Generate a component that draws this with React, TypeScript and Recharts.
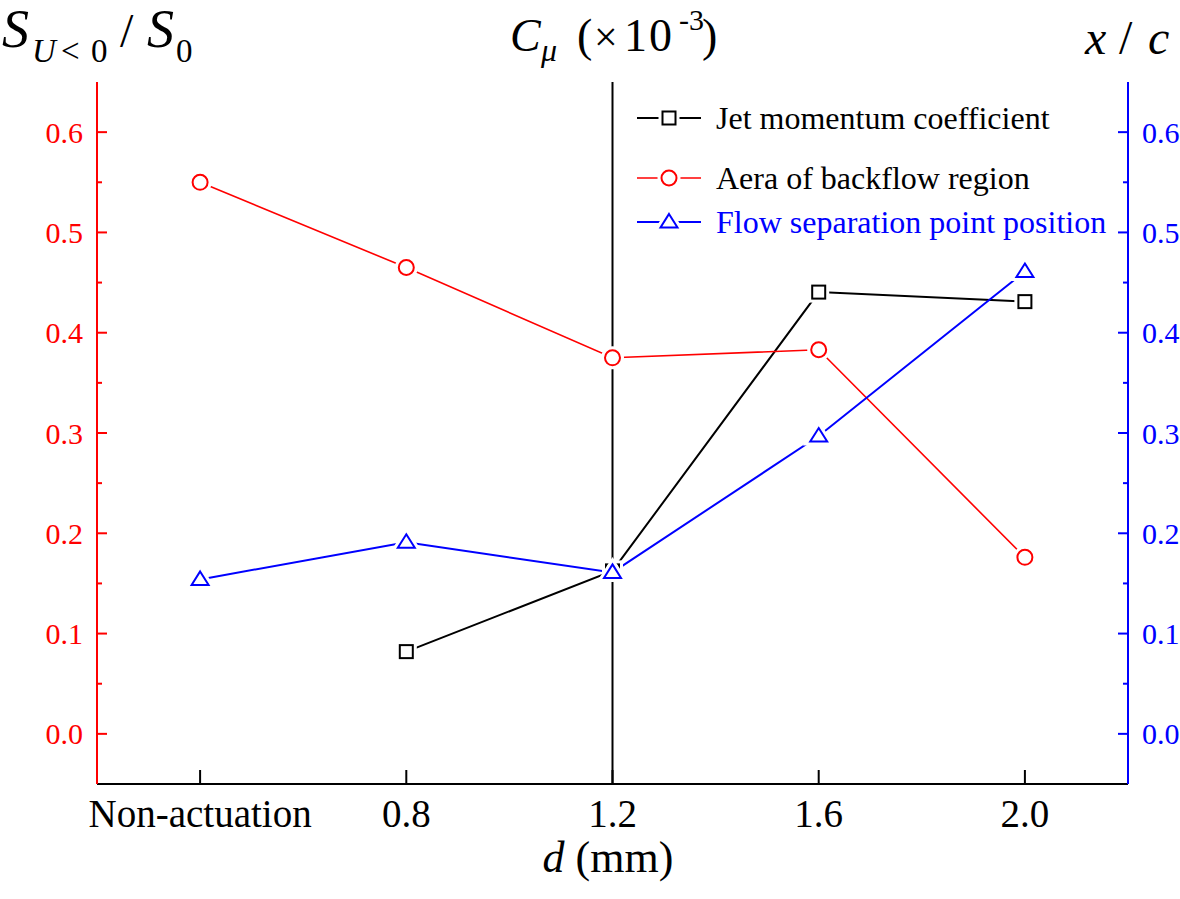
import React from 'react';
import { LineChart, Line, XAxis, YAxis, ReferenceLine, Legend } from 'recharts';

// nozzle diameter d (mm)
const categories = ['Non-actuation', '0.8', '1.2', '1.6', '2.0'];
// Cμ (x10^-3), no jet without actuation
const jetCmu: (number | null)[] = [null, 0.164, 0.325, 0.881, 0.862];
// S_{U<0} / S_0
const backflowArea = [0.55, 0.465, 0.375, 0.383, 0.176];
// x / c
const separationPoint = [0.154, 0.191, 0.161, 0.297, 0.461];

const sideTicks = [0, 0.05, 0.1, 0.15, 0.2, 0.25, 0.3, 0.35, 0.4, 0.45, 0.5, 0.55, 0.6];
const midTicks = [0, 0.2, 0.4, 0.6, 0.8, 1.0, 1.2];

const RED = '#ff0000';
const BLUE = '#0000ff';
const BLACK = '#000000';
const FONT = '"Liberation Serif", "Times New Roman", serif';

const W = 1180;
const H = 899;
const PLOT = { left: 97, right: 1128, top: 82, bottom: 784 };
const MID_X = (PLOT.left + PLOT.right) / 2;
const X_PAD = (PLOT.right - PLOT.left) / categories.length / 2;

type Shape = 'square' | 'circle' | 'triangle';

const series = [
  { key: 'cmu', name: 'Jet momentum coefficient', color: BLACK, text: BLACK, shape: 'square' as Shape, axis: 'C', width: 2 },
  { key: 'area', name: 'Aera of backflow region', color: RED, text: BLACK, shape: 'circle' as Shape, axis: 'S', width: 1.6 },
  { key: 'sep', name: 'Flow separation point position', color: BLUE, text: BLUE, shape: 'triangle' as Shape, axis: 'X', width: 2 },
];

const data = categories.map((d, i) => ({
  d,
  cmu: jetCmu[i],
  area: backflowArea[i],
  sep: separationPoint[i],
}));

const shapeEl = (shape: Shape, x: number, y: number, props: any) => {
  if (shape === 'square') return <rect x={x - 6.5} y={y - 6.5} width={13} height={13} {...props} />;
  if (shape === 'circle') return <circle cx={x} cy={y} r={7.5} {...props} />;
  return <polygon points={`${x},${y - 8} ${x + 8.5},${y + 5.5} ${x - 8.5},${y + 5.5}`} {...props} />;
};

const Marker = ({ shape, x, y, color }: { shape: Shape; x: number; y: number; color: string }) => (
  <g>
    {shapeEl(shape, x, y, { fill: '#fff', stroke: '#fff', strokeWidth: 8 })}
    {shapeEl(shape, x, y, { fill: '#fff', stroke: color, strokeWidth: 2 })}
  </g>
);

const SideTick = (props: any) => {
  const { y, payload, side, color } = props;
  const v = payload.value as number;
  const major = Math.round(v * 100) % 10 === 0;
  const x0 = side === 'left' ? PLOT.left : PLOT.right;
  const dir = side === 'left' ? 1 : -1;
  const len = major ? 10 : 5;
  return (
    <g>
      <line x1={x0} x2={x0 + dir * len} y1={y} y2={y} stroke={color} strokeWidth={2} />
      {major && (
        <text
          x={side === 'left' ? x0 - 14 : x0 + 14}
          y={y}
          dy="0.35em"
          textAnchor={side === 'left' ? 'end' : 'start'}
          fill={color}
          fontSize={30}
          fontFamily={FONT}
        >
          {v.toFixed(1)}
        </text>
      )}
    </g>
  );
};

const MidTick = (props: any) => {
  const { y, payload } = props;
  return (
    <g>
      <line x1={MID_X - 6} x2={MID_X + 6} y1={y} y2={y} stroke={BLACK} strokeWidth={2} />
      <text x={MID_X - 10} y={y} dy="0.35em" textAnchor="end" fill={BLACK} fontSize={30} fontFamily={FONT}>
        {(payload.value as number).toFixed(1)}
      </text>
    </g>
  );
};

const BottomTick = (props: any) => {
  const { x, payload } = props;
  return (
    <g>
      <line x1={x} x2={x} y1={PLOT.bottom} y2={PLOT.bottom - 14} stroke={BLACK} strokeWidth={2} />
      <text x={x} y={827} textAnchor="middle" fill={BLACK} fontSize={39} fontFamily={FONT}>
        {payload.value}
      </text>
    </g>
  );
};

const rowGaps = [0, 26, 10];

const LegendBox = () => (
  <div style={{ fontFamily: FONT, fontSize: 32, lineHeight: '34px' }}>
    {series.map((s, i) => (
      <div key={s.key} style={{ display: 'flex', alignItems: 'center', height: 34, marginTop: rowGaps[i] }}>
        <svg width={64} height={34} style={{ overflow: 'visible' }}>
          <line x1={0} x2={64} y1={17} y2={17} stroke={s.color} strokeWidth={s.width} />
          <Marker shape={s.shape} x={32} y={17} color={s.color} />
        </svg>
        <span style={{ marginLeft: 15, color: s.text, whiteSpace: 'nowrap' }}>{s.name}</span>
      </div>
    ))}
  </div>
);

const Titles = () => (
  <g fontFamily={FONT} fill={BLACK}>
    <text x={2} y={47} fontSize={54} fontStyle="italic">S</text>
    <text x={32} y={62} fontSize={33} fontStyle="italic">U</text>
    <text x={61} y={62} fontSize={33}>&lt;</text>
    <text x={91} y={62} fontSize={33}>0</text>
    <text x={120} y={47} fontSize={48}>/</text>
    <text x={147} y={47} fontSize={54} fontStyle="italic">S</text>
    <text x={176} y={62} fontSize={33}>0</text>

    <text x={510} y={51} fontSize={46} fontStyle="italic">C</text>
    <text x={541} y={61} fontSize={32} fontStyle="italic">μ</text>
    <text x={577} y={51} fontSize={46}>(</text>
    <text x={594} y={51} fontSize={42}>×</text>
    <text x={624} y={51} fontSize={46} letterSpacing={2}>10</text>
    <text x={679} y={30} fontSize={30}>-3</text>
    <text x={702} y={51} fontSize={46}>)</text>

    <text x={1085} y={54} fontSize={48} fontStyle="italic">x</text>
    <text x={1119} y={54} fontSize={48}>/</text>
    <text x={1148} y={54} fontSize={48} fontStyle="italic">c</text>

    <text x={608} y={872} textAnchor="middle" fontSize={44}>
      <tspan fontStyle="italic">d</tspan>
      <tspan> (mm)</tspan>
    </text>
  </g>
);

export default function App() {
  return (
    <div style={{ position: 'absolute', left: 0, top: 0, width: W, height: H, background: '#fff' }}>
      <LineChart width={W} height={H} data={data} margin={{ top: PLOT.top, right: 0, bottom: 0, left: 0 }}>
        <XAxis
          dataKey="d"
          height={H - PLOT.bottom}
          padding={{ left: X_PAD, right: X_PAD }}
          axisLine={{ stroke: BLACK, strokeWidth: 2 }}
          tickLine={false}
          tick={<BottomTick />}
          interval={0}
        />
        <XAxis
          xAxisId="top"
          dataKey="d"
          orientation="top"
          height={0}
          padding={{ left: X_PAD, right: X_PAD }}
          axisLine={{ stroke: BLACK, strokeWidth: 2 }}
          tick={false}
          tickLine={false}
        />
        <YAxis
          yAxisId="S"
          orientation="left"
          width={PLOT.left}
          domain={[-0.05, 0.65]}
          ticks={sideTicks}
          interval={0}
          axisLine={{ stroke: RED, strokeWidth: 2 }}
          tickLine={false}
          tick={(p: any) => <SideTick {...p} side="left" color={RED} />}
        />
        <YAxis
          yAxisId="C"
          orientation="left"
          width={0}
          domain={[-0.1, 1.3]}
          ticks={midTicks}
          interval={0}
          axisLine={false}
          tickLine={false}
          tick={(p: any) => <MidTick {...p} />}
        />
        <YAxis
          yAxisId="X"
          orientation="right"
          width={W - PLOT.right}
          domain={[-0.05, 0.65]}
          ticks={sideTicks}
          interval={0}
          axisLine={{ stroke: BLUE, strokeWidth: 2 }}
          tickLine={false}
          tick={(p: any) => <SideTick {...p} side="right" color={BLUE} />}
        />
        <ReferenceLine x="1.2" yAxisId="S" stroke={BLACK} strokeWidth={2} />
        {series.map((s) => (
          <Line
            key={s.key}
            yAxisId={s.axis}
            dataKey={s.key}
            name={s.name}
            stroke={s.color}
            strokeWidth={s.width}
            connectNulls={false}
            isAnimationActive={false}
            dot={(p: any) =>
              p.cx == null || p.cy == null || p.value == null ? (
                <g key={p.key ?? `${s.key}-${p.index}`} />
              ) : (
                <g key={p.key ?? `${s.key}-${p.index}`}>
                  <Marker shape={s.shape} x={p.cx} y={p.cy} color={s.color} />
                </g>
              )
            }
            activeDot={false}
          />
        ))}
        <Legend
          layout="horizontal"
          verticalAlign="middle"
          align="center"
          content={() => <LegendBox />}
          wrapperStyle={{ left: 637, top: 101, width: 490 }}
        />
        <Titles />
      </LineChart>
    </div>
  );
}
